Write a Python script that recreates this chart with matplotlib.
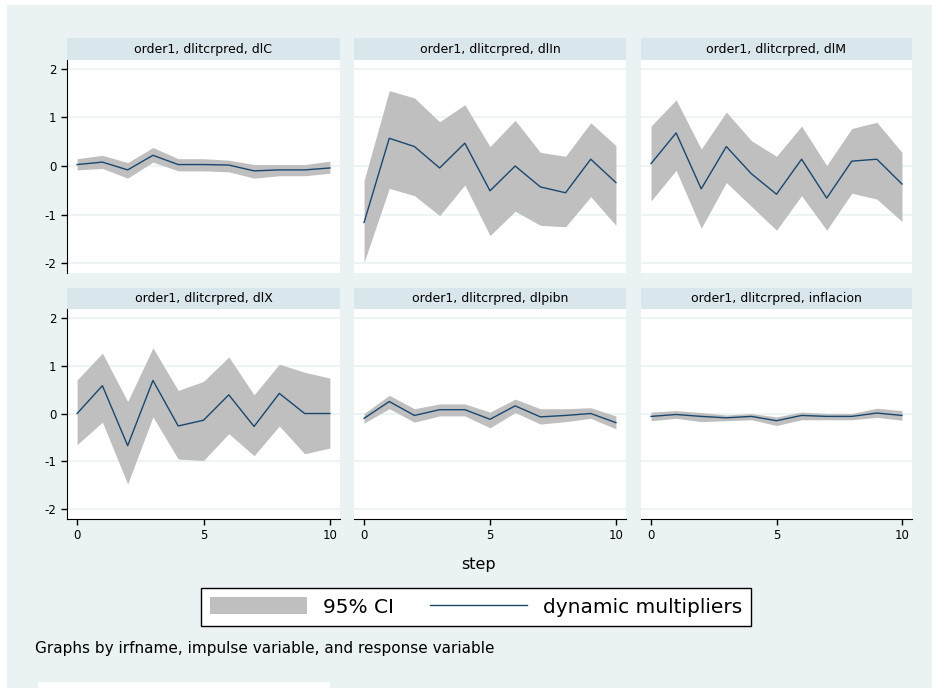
import matplotlib.pyplot as plt
from matplotlib.patches import Rectangle, Patch
from matplotlib.lines import Line2D

# step axis shared by every panel
steps = list(range(11))

titles = ['order1, dlitcrpred, dlC', 'order1, dlitcrpred, dlIn', 'order1, dlitcrpred, dlM',
          'order1, dlitcrpred, dlX', 'order1, dlitcrpred, dlpibn', 'order1, dlitcrpred, inflacion']

# dynamic multipliers (point estimates)
dm_dlC = [0.03, 0.08, -0.08, 0.22, 0.03, 0.03, 0.02, -0.1, -0.08, -0.08, -0.04]
dm_dlIn = [-1.16, 0.57, 0.40, -0.04, 0.47, -0.51, 0.0, -0.43, -0.55, 0.14, -0.34]
dm_dlM = [0.05, 0.68, -0.47, 0.40, -0.16, -0.58, 0.14, -0.66, 0.10, 0.14, -0.37]
dm_dlX = [0.0, 0.58, -0.67, 0.69, -0.26, -0.14, 0.39, -0.27, 0.42, 0.0, 0.0]
dm_dlpibn = [-0.1, 0.25, -0.04, 0.08, 0.08, -0.12, 0.16, -0.07, -0.04, 0.0, -0.19]
dm_infl = [-0.06, -0.02, -0.06, -0.09, -0.06, -0.15, -0.04, -0.06, -0.06, 0.01, -0.04]

# 95% CI bounds
hi_dlC = [0.15, 0.22, 0.07, 0.38, 0.15, 0.15, 0.12, 0.03, 0.03, 0.03, 0.1]
lo_dlC = [-0.08, -0.05, -0.25, 0.08, -0.1, -0.1, -0.12, -0.25, -0.2, -0.2, -0.15]
hi_dlIn = [-0.3, 1.55, 1.40, 0.91, 1.26, 0.40, 0.94, 0.28, 0.20, 0.89, 0.42]
lo_dlIn = [-1.98, -0.46, -0.61, -1.02, -0.39, -1.43, -0.93, -1.22, -1.25, -0.63, -1.22]
hi_dlM = [0.82, 1.36, 0.35, 1.11, 0.52, 0.20, 0.82, 0.01, 0.77, 0.90, 0.28]
lo_dlM = [-0.72, -0.09, -1.28, -0.34, -0.83, -1.32, -0.61, -1.32, -0.56, -0.68, -1.14]
hi_dlX = [0.70, 1.26, 0.25, 1.37, 0.48, 0.67, 1.18, 0.39, 1.03, 0.86, 0.74]
lo_dlX = [-0.65, -0.18, -1.47, -0.07, -0.95, -0.98, -0.42, -0.88, -0.26, -0.84, -0.72]
hi_dlpibn = [0.0, 0.38, 0.1, 0.2, 0.2, 0.03, 0.3, 0.1, 0.1, 0.12, -0.05]
lo_dlpibn = [-0.2, 0.1, -0.18, -0.05, -0.05, -0.3, 0.02, -0.22, -0.17, -0.1, -0.32]
hi_infl = [0.03, 0.06, 0.02, -0.03, 0.0, -0.07, 0.03, 0.0, 0.0, 0.11, 0.06]
lo_infl = [-0.15, -0.1, -0.17, -0.15, -0.13, -0.25, -0.13, -0.13, -0.13, -0.08, -0.14]

dms = [dm_dlC, dm_dlIn, dm_dlM, dm_dlX, dm_dlpibn, dm_infl]
his = [hi_dlC, hi_dlIn, hi_dlM, hi_dlX, hi_dlpibn, hi_infl]
los = [lo_dlC, lo_dlIn, lo_dlM, lo_dlX, lo_dlpibn, lo_infl]

yticks = [-2, -1, 0, 1, 2]
xticks = [0, 5, 10]

BG = '#EAF2F3'
STRIP = '#D9E6EB'
BAND = '#BFBFBF'
LINE = '#1A476F'

plt.rcParams['font.family'] = ['DejaVu Sans']
plt.rcParams['axes.unicode_minus'] = False

W, H = 932, 688
fig = plt.figure(figsize=(W / 100, H / 100), dpi=100, facecolor='white')


def px_axes(x0, y0, x1, y1):
    # pixel box (top-left origin) -> figure axes
    return fig.add_axes([x0 / W, 1 - y1 / H, (x1 - x0) / W, (y1 - y0) / H])


# outer graph region (kept behind the axes)
fig.patches.append(Rectangle((7 / W, 0), 1, 1 - 5 / H, transform=fig.transFigure,
                             facecolor=BG, edgecolor='none', zorder=-10))
fig.patches.append(Rectangle((38 / W, 0), (330 - 38) / W, 6 / H, transform=fig.transFigure,
                             facecolor='white', edgecolor='none', zorder=-9))

cols = [(67, 340), (354, 626), (641, 912)]
strips = [(38, 60), (288, 309)]
plots = [(60, 273), (309, 519)]

for i in range(6):
    r, c = divmod(i, 3)
    x0, x1 = cols[c]
    sa = px_axes(x0, strips[r][0], x1, strips[r][1])
    sa.set_facecolor(STRIP)
    sa.set_xticks([])
    sa.set_yticks([])
    for s in sa.spines.values():
        s.set_visible(False)
    sa.text(0.5, 0.5, titles[i], ha='center', va='center', fontsize=9, transform=sa.transAxes)

    ax = px_axes(x0, plots[r][0], x1, plots[r][1])
    ax.set_facecolor('white')
    for y in yticks:
        ax.axhline(y, color=BG, lw=1.2, zorder=0)
    ax.fill_between(steps, los[i], his[i], color=BAND, lw=0, zorder=1)
    ax.plot(steps, dms[i], color=LINE, lw=1.0, zorder=2)
    ax.set_xlim(-0.4, 10.4)
    ax.set_ylim(-2.2, 2.18)
    ax.set_yticks(yticks)
    ax.set_xticks(xticks)
    for s in ['top', 'right']:
        ax.spines[s].set_visible(False)
    ax.spines['left'].set_visible(c == 0)
    ax.spines['bottom'].set_visible(r == 1)
    ax.tick_params(direction='out', length=4, width=1, labelsize=8.5)
    if c != 0:
        ax.tick_params(axis='y', left=False, labelleft=False)
    if r != 1:
        ax.tick_params(axis='x', bottom=False, labelbottom=False)

fig.text(478 / W, 1 - 565 / H, 'step', ha='center', va='center', fontsize=11.5)

handles = [Patch(facecolor=BAND, edgecolor='none'), Line2D([], [], color=LINE, lw=1.0)]
leg = fig.legend(handles, ['95% CI', 'dynamic multipliers'], loc='center', ncol=2,
                 bbox_to_anchor=(476 / W, 1 - 607 / H), fontsize=14.5, frameon=True,
                 fancybox=False, edgecolor='black', framealpha=1, handlelength=4.8,
                 handleheight=0.9, columnspacing=1.8, borderpad=0.45, handletextpad=0.8)
leg.get_frame().set_linewidth(1.0)

fig.text(35 / W, 1 - 648 / H, 'Graphs by irfname, impulse variable, and response variable',
         ha='left', va='center', fontsize=11)

fig.savefig('out.png', dpi=100, facecolor='white')
